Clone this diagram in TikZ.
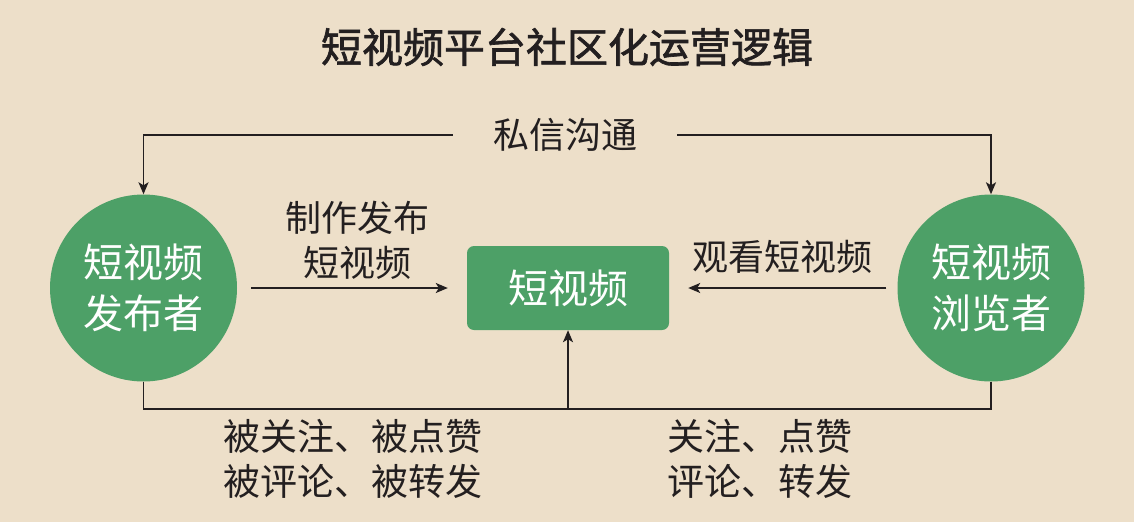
\documentclass[tikz,border=0pt]{standalone}
\usepackage{fontspec}
\setmainfont{Noto Sans CJK SC}
\newfontfamily\titlefont[FakeBold=1.6]{Noto Sans CJK SC}
\usetikzlibrary{arrows.meta}
\definecolor{bgc}{RGB}{237,223,201}
\definecolor{grn}{RGB}{77,160,103}
\definecolor{ink}{RGB}{35,31,32}
\tikzset{
  arr/.style={draw=ink,line width=1.8pt,-{Stealth[length=12pt,width=10pt,inset=3pt]}},
  ln/.style={draw=ink,line width=1.8pt},
  actor/.style={circle,fill=grn,minimum size=187pt,inner sep=0pt,text=white,align=center,font=\fontsize{40}{51}\selectfont},
  vbox/.style={rectangle,rounded corners=7pt,fill=grn,minimum width=202pt,minimum height=84pt,inner sep=0pt,text=white,font=\fontsize{40}{48}\selectfont},
  lbl/.style={inner sep=0pt,align=center,text=ink,font=\fontsize{36}{45}\selectfont},
  blbl/.style={inner sep=0pt,align=center,text=ink,font=\fontsize{37}{45}\selectfont}
}
\begin{document}
\begin{tikzpicture}[x=1pt,y=-1pt]
\fill[bgc] (0,0) rectangle (1134,522);
\useasboundingbox (0,0) rectangle (1134,522);
\node[inner sep=0pt,text=ink,font=\fontsize{41}{41}\titlefont] (title) at (567,47) {短视频平台社区化运营逻辑};
\node[actor] (pub) at (143.5,288) {短视频\\发布者};
\node[actor] (view) at (991,288) {短视频\\浏览者};
\node[vbox] (vid) at (568,288) {短视频};
\node[lbl,inner xsep=40pt] (msg) at (565,135) {私信沟通};
\node[lbl] (make) at (357,240) {制作发布\\短视频};
\node[lbl] (watch) at (782,257) {观看短视频};
\node[blbl] (fb) at (353,459) {被关注、被点赞\\被评论、被转发};
\node[blbl] (vb) at (760,459) {关注、点赞\\评论、转发};
\coordinate (j) at (568,409);
\draw[arr] (msg.west) -| (pub.north);
\draw[arr] (msg.east) -| (view.north);
\draw[arr,shorten <=14pt,shorten >=19pt] (pub.east) -- (vid.west);
\draw[arr,shorten <=11pt,shorten >=19pt] (view.west) -- (vid.east);
\draw[ln] (pub.south) |- (j) -| (view.south);
\draw[arr] (j) -- (vid.south);
\end{tikzpicture}
\end{document}
